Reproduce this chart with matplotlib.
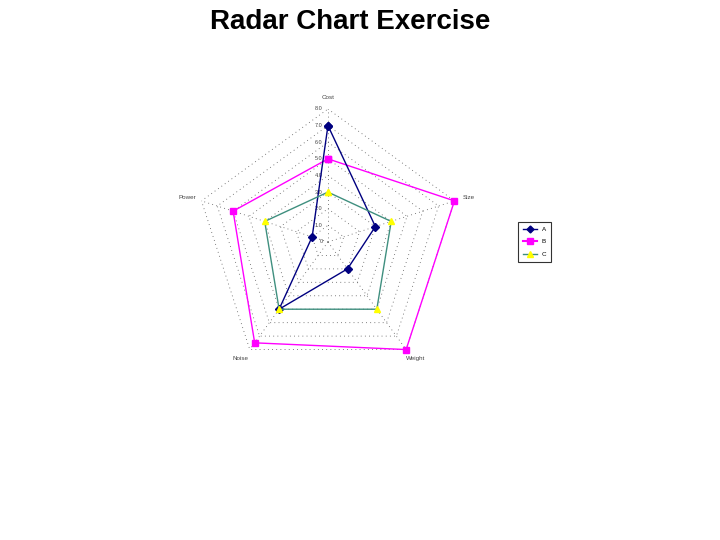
import numpy as np
import matplotlib
matplotlib.use("Agg")
import matplotlib.pyplot as plt
from matplotlib.lines import Line2D

# categories clockwise from the top
categorias = ["Cost", "Size", "Weight", "Noise", "Power"]
serie_a = [7, 3, 2, 5, 1]
serie_b = [5, 8, 8, 7.5, 6]
serie_c = [3, 4, 5, 5, 4]
nomes = ["A", "B", "C"]
ticks = [0, 1, 2, 3, 4, 5, 6, 7, 8]
tick_labels = ["0", "1.0", "2.0", "3.0", "4.0", "5.0", "6.0", "7.0", "8.0"]

plt.rcParams['font.family'] = ['Liberation Sans', 'DejaVu Sans']

fig = plt.figure(figsize=(7.2, 5.4), dpi=100)
fig.text(0.486, 0.96, "Radar Chart Exercise", ha="center", va="center",
         fontsize=20, fontweight="bold")

ax = fig.add_axes([0.2708, 0.3056, 0.3694, 0.4926], projection="polar")
ax.set_theta_offset(np.pi / 2)
ax.set_theta_direction(-1)
ax.set_ylim(0, 8)
ax.grid(False)
ax.spines["polar"].set_visible(False)
ax.set_xticks([])
ax.set_yticks([])
ax.patch.set_alpha(0)

n = len(categorias)
ang = np.linspace(0, 2 * np.pi, n, endpoint=False)
ang_f = np.append(ang, ang[0])

# dotted pentagon grid
for r in ticks[1:]:
    ax.plot(ang_f, [r] * (n + 1), color="#555555", lw=0.6, ls=(0, (1, 4)), zorder=1)
for a in ang:
    ax.plot([a, a], [0, 8], color="#555555", lw=0.6, ls=(0, (1, 4)), zorder=1)

# tick labels along the top spoke
for r, lab in zip(ticks, tick_labels):
    ax.annotate(lab, xy=(0, r), xytext=(-4, 0), textcoords="offset points",
                ha="right", va="center", fontsize=4, color="#444444")

# category labels
for a, lab in zip(ang, categorias):
    ax.annotate(lab, xy=(a, 8), xytext=(11 * np.sin(a), 8 * np.cos(a)),
                textcoords="offset points", ha="center", va="center",
                fontsize=4.5, color="#444444")

def fecha(v):
    return list(v) + [v[0]]

ax.plot(ang_f, fecha(serie_a), color="#000080", lw=1, marker="D", ms=4,
        mfc="#000080", mec="#000080", zorder=3, clip_on=False)
ax.plot(ang_f, fecha(serie_b), color="#FF00FF", lw=1, marker="s", ms=5,
        mfc="#FF00FF", mec="#FF00FF", zorder=2, clip_on=False)
ax.plot(ang_f, fecha(serie_c), color="#3F8F7F", lw=1, marker="^", ms=5,
        mfc="#FFFF00", mec="#FFFF00", zorder=4, clip_on=False)

handles = [
    Line2D([], [], color="#000080", lw=1, marker="D", ms=3.5, mfc="#000080", mec="#000080"),
    Line2D([], [], color="#FF00FF", lw=1.5, marker="s", ms=4.5, mfc="#FF00FF", mec="#FF00FF"),
    Line2D([], [], color="#3F8F7F", lw=1, marker="^", ms=4.5, mfc="#FFFF00", mec="#FFFF00"),
]
leg = fig.legend(handles, nomes, loc="upper left", bbox_to_anchor=(0.715, 0.595),
                 fontsize=4.5, frameon=True, fancybox=False, handlelength=2.2,
                 borderpad=0.8, labelspacing=1.1)
leg.get_frame().set_edgecolor("black")
leg.get_frame().set_linewidth(0.8)

fig.savefig("out.png", dpi=100)
